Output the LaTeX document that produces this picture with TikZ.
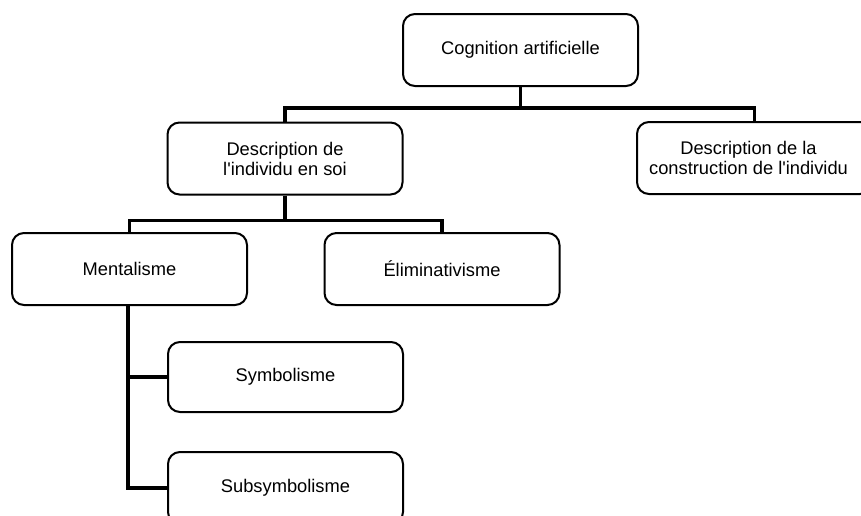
\documentclass[tikz,border=0pt]{standalone}
\usepackage{fontspec}
\setmainfont{Liberation Sans}[Ligatures=TeXOff]
\begin{document}
\begin{tikzpicture}[x=1pt,y=-1pt,
  box/.style={draw, line width=2pt, rounded corners=12pt, minimum width=235pt,
    minimum height=72pt, align=center, inner sep=0pt, font=\fontsize{18.3}{20}\selectfont},
  conn/.style={draw, line width=3.6pt}]
\useasboundingbox (0,0) rectangle (861,515);
\clip (0,0) rectangle (861,515);
\node[box] (top) at (520.5,50) {Cognition artificielle};
\node[box] (desc) at (285,158.5) {Description de\\l'individu en soi};
\node[box] (cons) at (754.5,158) {\hspace*{-12pt}Description de la\\\hspace*{-12pt}construction de l'individu};
\node[box] (ment) at (129.5,269) {Mentalisme};
\node[box] (elim) at (442,269) {Éliminativisme};
\node[box, minimum height=70pt] (sym) at (285.5,377) {Symbolisme};
\node[box] (sub) at (285.5,488) {Subsymbolisme};
\draw[conn] (top.south) -- ++(0,21) -| (desc.north);
\draw[conn] (top.south) -- ++(0,21) -| (cons.north);
\draw[conn] (desc.south) -- ++(0,25) -| (ment.north);
\draw[conn] (desc.south) -- ++(0,25) -| (elim.north);
\draw[conn] ([xshift=-1.5pt]ment.south) |- (sym.west);
\draw[conn] ([xshift=-1.5pt]ment.south) |- (sub.west);
\end{tikzpicture}
\end{document}
